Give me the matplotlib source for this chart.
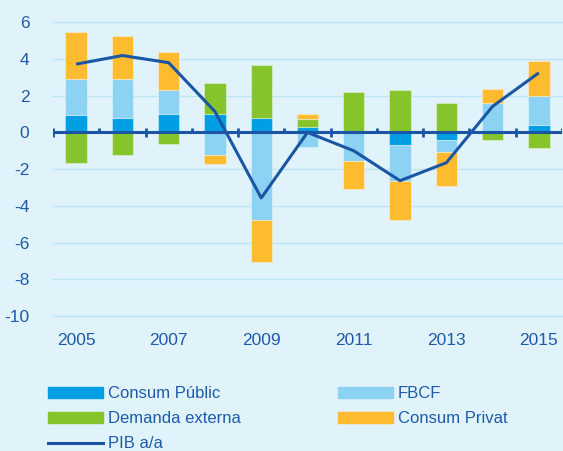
import numpy as np
import matplotlib.pyplot as plt
from matplotlib.patches import Patch
from matplotlib.lines import Line2D

plt.rcParams['font.family'] = ['Liberation Sans', 'DejaVu Sans']
plt.rcParams['axes.unicode_minus'] = False

years = [2005, 2006, 2007, 2008, 2009, 2010, 2011, 2012, 2013, 2014, 2015]
tick_labels = ["2005", "", "2007", "", "2009", "", "2011", "", "2013", "", "2015"]

# contributions to growth, percentage points
consum_public = [0.93, 0.80, 1.02, 1.02, 0.80, 0.27, 0.0, -0.71, -0.41, 0.0, 0.40]
fbcf = [2.00, 2.09, 1.27, -1.23, -4.77, -0.82, -1.58, -1.92, -0.66, 1.58, 1.60]
demanda_externa = [-1.65, -1.25, -0.63, 1.67, 2.87, 0.48, 2.18, 2.29, 1.60, -0.41, -0.87]
consum_privat = [2.55, 2.39, 2.07, -0.47, -2.29, 0.25, -1.50, -2.12, -1.87, 0.78, 1.89]
pib = [3.72, 4.19, 3.80, 1.14, -3.57, 0.0, -1.00, -2.63, -1.65, 1.42, 3.25]

BG = "#e1f3fa"
GRID = "#bde4f6"
DARK = "#1b56a5"
TXT = "#1e5aa8"

series = [
    ("Consum Públic", consum_public, "#009fe3"),
    ("FBCF", fbcf, "#8bd2f3"),
    ("Demanda externa", demanda_externa, "#86c42c"),
    ("Consum Privat", consum_privat, "#fdbc2f"),
]

fig = plt.figure(figsize=(5.63, 4.51), dpi=100, facecolor=BG)
ax = fig.add_axes([53 / 563, 1 - 316 / 451, 509 / 563, (316 - 22.3) / 451])
ax.set_facecolor(BG)

x = np.arange(len(years))
pos_base = np.zeros(len(years))
neg_base = np.zeros(len(years))
for name, vals, col in series:
    vals = np.array(vals)
    base = np.where(vals >= 0, pos_base, neg_base)
    ax.bar(x, vals, bottom=base, width=0.46, color=col,
           edgecolor=(1, 1, 1, 0.35), linewidth=0.8, zorder=2)
    pos_base += np.where(vals >= 0, vals, 0)
    neg_base += np.where(vals < 0, vals, 0)

# zero axis with category ticks
ax.axhline(0, color=DARK, lw=2.2, zorder=3)
for i in range(len(years) + 1):
    if i % 2 == 0:
        ax.vlines(i - 0.5, -0.24, 0.24, color=DARK, lw=2, zorder=3)
    else:
        ax.vlines(i - 0.5, 0, 0.24, color=DARK, lw=2, zorder=3)

ax.plot(x, pib, color=DARK, lw=2.2, zorder=4, solid_capstyle='butt')

ax.set_xlim(-0.5, len(years) - 0.5)
ax.set_ylim(-10, 6)
ax.set_yticks(np.arange(-10, 7, 2))
ax.set_xticks(x)
ax.set_xticklabels(tick_labels)
ax.tick_params(length=0, labelcolor=TXT, labelsize=12.5)
ax.tick_params(axis='y', pad=17)
ax.tick_params(axis='x', pad=12)
for y in np.arange(-10, 7, 2):
    ax.axhline(y, color=GRID, lw=1, zorder=1, clip_on=False)
for s in ax.spines.values():
    s.set_visible(False)

handles = [
    Patch(color="#009fe3", label="Consum Públic"),
    Patch(color="#86c42c", label="Demanda externa"),
    Line2D([], [], color=DARK, lw=2.2, label="PIB a/a"),
    Patch(color="#8bd2f3", label="FBCF"),
    Patch(color="#fdbc2f", label="Consum Privat"),
]
leg = fig.legend(handles=handles, ncol=2, loc="upper left",
                 bbox_to_anchor=(40 / 563, 1 - 378 / 451), frameon=False,
                 fontsize=12, handlelength=3.3, handletextpad=0.3,
                 columnspacing=5.8, labelspacing=0.6, borderpad=0)
for t in leg.get_texts():
    t.set_color(TXT)

fig.savefig("out.png", dpi=100, facecolor=BG)
